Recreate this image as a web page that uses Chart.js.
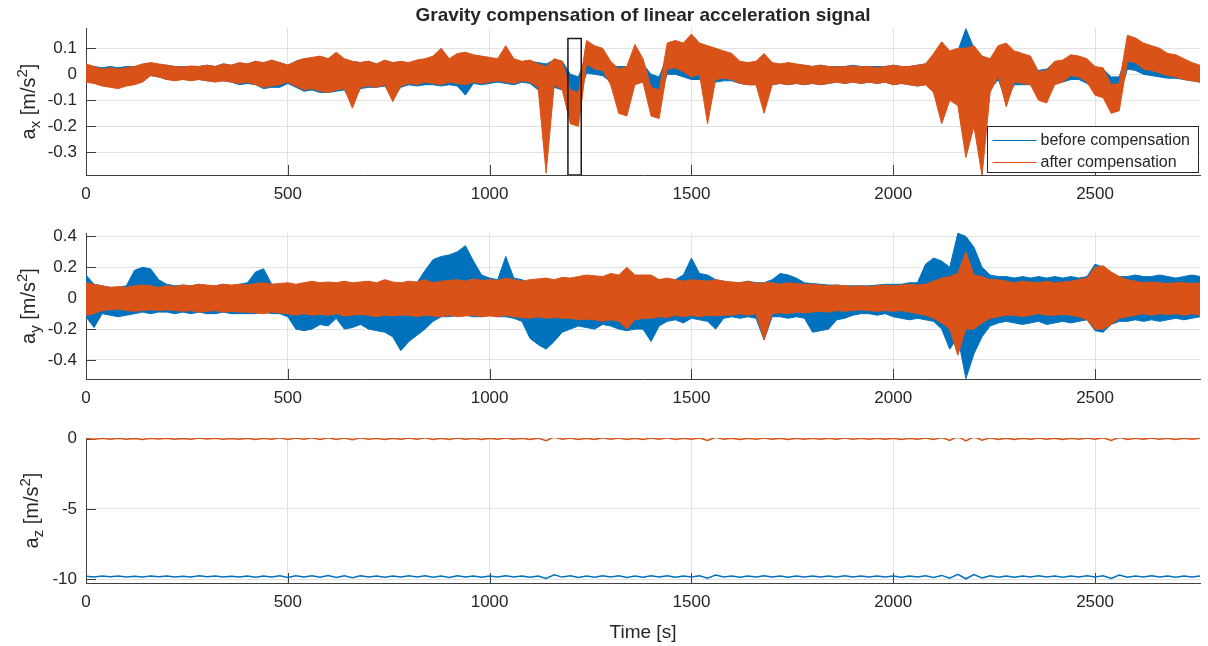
<!DOCTYPE html>
<html>
<head>
<meta charset="utf-8">
<script src="https://cdn.jsdelivr.net/npm/chart.js@4.4.1/dist/chart.umd.min.js"></script>
<style>
  body { margin: 0; background: #fff; }
  #wrap { position: relative; width: 1208px; height: 646px; }
  #wrap canvas { position: absolute; left: 0; top: 0; }
</style>
</head>
<body>
<div id="wrap">
  <canvas id="axChart" width="1208" height="646"></canvas>
  <canvas id="ayChart" width="1208" height="646"></canvas>
  <canvas id="azChart" width="1208" height="646"></canvas>
</div>
<script>
/* sampling grid of the envelopes (s) */
const T_STEP = 20;
const T_END = 2760;

const X_TICKS = [0, 500, 1000, 1500, 2000, 2500];
const AX_TICKS = [-0.3, -0.2, -0.1, 0, 0.1];
const AY_TICKS = [-0.4, -0.2, 0, 0.2, 0.4];
const AZ_TICKS = [-10, -5, 0];

const LEGEND_LABELS = ["before compensation", "after compensation"];

/* a_x : upper / lower envelope every 20 s */
const AX_BEFORE_HI = [
  0.035, 0.03, 0.025, 0.03, 0.025, 0.03, 0.03, 0.035, 0.04, 0.035,
  0.035, 0.03, 0.03, 0.03, 0.03, 0.035, 0.03, 0.04, 0.035, 0.04,
  0.04, 0.05, 0.04, 0.05, 0.045, 0.035, 0.05, 0.06, 0.06, 0.065,
  0.06, 0.08, 0.055, 0.05, 0.045, 0.05, 0.04, 0.05, 0.045, 0.045,
  0.045, 0.05, 0.055, 0.06, 0.09, 0.055, 0.07, 0.075, 0.07, 0.065,
  0.06, 0.055, 0.09, 0.055, 0.045, 0.05, 0.045, 0.04, 0.055, 0.05,
  0.0, -0.01, 0.07, 0.06, 0.05, 0.03, 0.03, 0.03, 0.07, 0.04,
  0.0, -0.01, 0.07, 0.07, 0.065, 0.06, 0.055, 0.05, 0.045, 0.045,
  0.045, 0.04, 0.04, 0.045, 0.06, 0.04, 0.035, 0.04, 0.035, 0.035,
  0.03, 0.035, 0.03, 0.03, 0.03, 0.035, 0.03, 0.03, 0.03, 0.03,
  0.035, 0.03, 0.03, 0.035, 0.04, 0.07, 0.1, 0.08, 0.09, 0.175,
  0.1, 0.07, 0.055, 0.07, 0.07, 0.05, 0.05, 0.045, 0.015, 0.02,
  0.045, 0.045, 0.045, 0.045, 0.045, 0.025, 0.02, -0.01, -0.01, 0.09,
  0.085, 0.07, 0.065, 0.06, 0.05, 0.045, 0.04, 0.035, 0.03
];
const AX_BEFORE_LO = [
  -0.025, -0.03, -0.03, -0.035, -0.035, -0.03, -0.03, -0.025, -0.005, -0.01,
  -0.02, -0.02, -0.02, -0.02, -0.02, -0.025, -0.025, -0.025, -0.03, -0.04,
  -0.035, -0.04, -0.055, -0.05, -0.05, -0.035, -0.05, -0.065, -0.06, -0.07,
  -0.07, -0.065, -0.06, -0.11, -0.055, -0.05, -0.05, -0.045, -0.09, -0.05,
  -0.04, -0.045, -0.04, -0.04, -0.045, -0.04, -0.045, -0.08, -0.035, -0.04,
  -0.035, -0.03, -0.035, -0.04, -0.03, -0.035, -0.06, -0.09, -0.05, -0.06,
  -0.1, -0.095, 0.005, 0.0, -0.005, -0.03, -0.06, -0.055, -0.03, -0.03,
  -0.085, -0.09, 0.0, 0.0, -0.01, -0.02, -0.02, -0.03, -0.03, -0.025,
  -0.025, -0.035, -0.04, -0.04, -0.1, -0.04, -0.035, -0.04, -0.035, -0.04,
  -0.035, -0.04, -0.035, -0.03, -0.035, -0.03, -0.035, -0.03, -0.035, -0.03,
  -0.04, -0.035, -0.04, -0.045, -0.04, -0.07, -0.15, -0.09, -0.1, -0.2,
  -0.15, -0.2, -0.06, -0.02, -0.1, -0.04, -0.04, -0.04, -0.07, -0.075,
  -0.035, -0.03, -0.02, -0.02, -0.035, -0.06, -0.065, -0.09, -0.085, 0.02,
  0.015, 0.0, -0.005, -0.01, -0.015, -0.015, -0.02, -0.025, -0.03
];
const AX_AFTER_HI = [
  0.04, 0.03, 0.02, 0.025, 0.02, 0.025, 0.03, 0.04, 0.045, 0.04,
  0.035, 0.03, 0.028, 0.032, 0.03, 0.035, 0.03, 0.04, 0.035, 0.045,
  0.04, 0.05, 0.045, 0.055, 0.045, 0.035, 0.05, 0.06, 0.065, 0.07,
  0.06, 0.085, 0.06, 0.05, 0.045, 0.05, 0.04, 0.055, 0.045, 0.05,
  0.045, 0.055, 0.06, 0.07, 0.1, 0.06, 0.08, 0.085, 0.075, 0.07,
  0.065, 0.06, 0.11, 0.06, 0.05, 0.055, 0.04, 0.03, 0.06, 0.05,
  -0.06, -0.07, 0.13, 0.11, 0.1, 0.05, 0.02, 0.03, 0.115, 0.06,
  -0.05, -0.06, 0.12, 0.13, 0.12, 0.155, 0.12, 0.11, 0.1, 0.09,
  0.08, 0.05, 0.045, 0.05, 0.08, 0.045, 0.04, 0.045, 0.04, 0.035,
  0.03, 0.035, 0.03, 0.028, 0.03, 0.032, 0.028, 0.03, 0.025, 0.03,
  0.035, 0.03, 0.03, 0.035, 0.04, 0.08, 0.125, 0.09, 0.1, 0.1,
  0.11, 0.07, 0.06, 0.11, 0.12, 0.09, 0.08, 0.07, 0.01, 0.015,
  0.05, 0.055, 0.075, 0.07, 0.06, 0.03, 0.025, -0.04, -0.035, 0.15,
  0.14, 0.12, 0.11, 0.1, 0.08, 0.075, 0.06, 0.045, 0.035
];
const AX_AFTER_LO = [
  -0.03, -0.035, -0.045, -0.05, -0.055, -0.045, -0.04, -0.03, -0.005, -0.01,
  -0.02, -0.025, -0.02, -0.025, -0.02, -0.025, -0.03, -0.025, -0.03, -0.035,
  -0.03, -0.04, -0.05, -0.045, -0.04, -0.03, -0.045, -0.06, -0.055, -0.065,
  -0.07, -0.06, -0.055, -0.13, -0.05, -0.045, -0.05, -0.04, -0.105, -0.045,
  -0.035, -0.04, -0.03, -0.035, -0.04, -0.03, -0.035, -0.04, -0.03, -0.035,
  -0.03, -0.025, -0.03, -0.035, -0.025, -0.03, -0.05, -0.38, -0.04, -0.06,
  -0.19, -0.2, 0.04, 0.02, 0.015, -0.04, -0.15, -0.16, -0.04, -0.03,
  -0.16, -0.17, 0.02, 0.025, 0.01, -0.01, 0.0, -0.19, -0.02, -0.015,
  -0.02, -0.035, -0.04, -0.04, -0.15, -0.04, -0.035, -0.04, -0.035, -0.04,
  -0.035, -0.04, -0.035, -0.03, -0.035, -0.03, -0.035, -0.03, -0.035, -0.03,
  -0.04, -0.035, -0.04, -0.045, -0.04, -0.07, -0.19, -0.1, -0.12, -0.32,
  -0.2, -0.39, -0.07, -0.005, -0.125, -0.03, -0.035, -0.04, -0.1, -0.11,
  -0.04, -0.03, -0.005, -0.01, -0.03, -0.08, -0.09, -0.15, -0.14, 0.05,
  0.045, 0.02, 0.015, 0.005, -0.005, -0.01, -0.02, -0.025, -0.03
];

/* a_y : upper / lower envelope every 20 s */
const AY_BEFORE_HI = [
  0.15, 0.09, 0.08, 0.07, 0.07, 0.08, 0.18, 0.2, 0.19, 0.12,
  0.09, 0.08, 0.085, 0.08, 0.09, 0.08, 0.08, 0.09, 0.08, 0.09,
  0.1, 0.17, 0.19, 0.09, 0.09, 0.08, 0.08, 0.08, 0.085, 0.08,
  0.085, 0.08, 0.09, 0.085, 0.09, 0.08, 0.085, 0.08, 0.08, 0.085,
  0.09, 0.1, 0.18, 0.25, 0.27, 0.28, 0.3, 0.34, 0.24, 0.15,
  0.13, 0.12, 0.27, 0.13, 0.12, 0.1, 0.09, 0.08, 0.085, 0.09,
  0.09, 0.1, 0.11, 0.1, 0.11, 0.12, 0.11, 0.15, 0.12, 0.1,
  0.11, 0.12, 0.11, 0.12, 0.15, 0.26, 0.16, 0.15, 0.12, 0.11,
  0.1, 0.1, 0.11, 0.1, 0.1, 0.12, 0.16, 0.15, 0.13, 0.1,
  0.095, 0.09, 0.085, 0.085, 0.08, 0.08, 0.08, 0.08, 0.085, 0.09,
  0.09, 0.09, 0.1, 0.1, 0.22, 0.26, 0.24, 0.2, 0.42, 0.4,
  0.33, 0.2, 0.15, 0.14, 0.14, 0.13, 0.14, 0.13, 0.14, 0.13,
  0.14, 0.13, 0.14, 0.13, 0.14, 0.22, 0.2, 0.15, 0.14, 0.14,
  0.15, 0.14, 0.14, 0.15, 0.14, 0.13, 0.14, 0.15, 0.14
];
const AY_BEFORE_LO = [
  -0.12, -0.19, -0.1, -0.11, -0.12, -0.11, -0.1, -0.09, -0.1, -0.09,
  -0.09, -0.1, -0.09, -0.1, -0.09, -0.1, -0.1, -0.09, -0.1, -0.1,
  -0.1, -0.1, -0.09, -0.1, -0.1, -0.12, -0.2, -0.21, -0.2, -0.17,
  -0.18, -0.13, -0.2, -0.19, -0.17, -0.2, -0.21, -0.22, -0.25, -0.34,
  -0.28, -0.24, -0.2, -0.15, -0.12, -0.12, -0.11, -0.11, -0.12, -0.12,
  -0.11, -0.12, -0.12, -0.13, -0.15, -0.26, -0.3, -0.33, -0.28, -0.22,
  -0.2, -0.18, -0.19, -0.2, -0.17, -0.18, -0.2, -0.21, -0.2, -0.2,
  -0.28, -0.18, -0.15, -0.14, -0.16, -0.13, -0.14, -0.15, -0.2, -0.13,
  -0.12, -0.13, -0.12, -0.13, -0.27, -0.12, -0.12, -0.13, -0.12, -0.13,
  -0.22, -0.21, -0.2, -0.14, -0.13, -0.11, -0.1, -0.1, -0.11, -0.1,
  -0.12, -0.13, -0.14, -0.13, -0.14, -0.15, -0.2, -0.33, -0.25, -0.52,
  -0.36, -0.25, -0.18, -0.16, -0.15, -0.16, -0.17, -0.16, -0.15, -0.17,
  -0.16, -0.15, -0.16, -0.15, -0.14, -0.21, -0.22, -0.17, -0.15, -0.15,
  -0.14, -0.15, -0.14, -0.15, -0.14, -0.13, -0.14, -0.13, -0.12
];
const AY_AFTER_HI = [
  0.1, 0.09, 0.08, 0.07, 0.075, 0.07, 0.08, 0.085, 0.08, 0.07,
  0.08, 0.075, 0.085, 0.08, 0.09, 0.085, 0.08, 0.09, 0.085, 0.09,
  0.085, 0.095, 0.1, 0.09, 0.095, 0.1, 0.09, 0.1, 0.11, 0.1,
  0.105, 0.1, 0.11, 0.1, 0.105, 0.11, 0.1, 0.12, 0.105, 0.1,
  0.11, 0.105, 0.12, 0.1, 0.11, 0.115, 0.12, 0.11, 0.125, 0.115,
  0.12, 0.115, 0.13, 0.12, 0.11, 0.12, 0.125, 0.13, 0.12, 0.135,
  0.13, 0.14, 0.15, 0.145, 0.14, 0.16, 0.15, 0.2, 0.15, 0.15,
  0.15, 0.12, 0.13, 0.12, 0.11, 0.12, 0.115, 0.11, 0.12, 0.11,
  0.105, 0.1, 0.11, 0.095, 0.1, 0.1, 0.09, 0.1, 0.095, 0.09,
  0.09, 0.085, 0.08, 0.085, 0.08, 0.075, 0.08, 0.075, 0.08, 0.085,
  0.08, 0.085, 0.09, 0.085, 0.09, 0.11, 0.13, 0.14, 0.16, 0.3,
  0.15, 0.14, 0.12, 0.12, 0.11, 0.1, 0.11, 0.105, 0.1, 0.11,
  0.1, 0.105, 0.11, 0.12, 0.13, 0.2, 0.21, 0.17, 0.14, 0.12,
  0.11, 0.1, 0.105, 0.1, 0.095, 0.1, 0.1, 0.095, 0.1
];
const AY_AFTER_LO = [
  -0.11, -0.1, -0.08, -0.075, -0.07, -0.08, -0.085, -0.08, -0.075, -0.08,
  -0.075, -0.08, -0.085, -0.08, -0.09, -0.085, -0.08, -0.09, -0.085, -0.09,
  -0.09, -0.095, -0.1, -0.09, -0.095, -0.1, -0.11, -0.1, -0.11, -0.105,
  -0.11, -0.1, -0.115, -0.11, -0.105, -0.11, -0.12, -0.11, -0.115, -0.11,
  -0.11, -0.12, -0.11, -0.115, -0.12, -0.11, -0.12, -0.115, -0.11, -0.12,
  -0.115, -0.12, -0.11, -0.12, -0.125, -0.13, -0.12, -0.13, -0.125, -0.13,
  -0.13, -0.14, -0.135, -0.14, -0.15, -0.14, -0.15, -0.2, -0.14, -0.13,
  -0.13, -0.12, -0.125, -0.11, -0.12, -0.11, -0.12, -0.11, -0.115, -0.11,
  -0.11, -0.1, -0.11, -0.1, -0.27, -0.1, -0.095, -0.1, -0.09, -0.095,
  -0.09, -0.085, -0.09, -0.08, -0.085, -0.08, -0.075, -0.08, -0.085, -0.08,
  -0.085, -0.08, -0.09, -0.1, -0.11, -0.13, -0.16, -0.2, -0.37, -0.2,
  -0.2, -0.16, -0.13, -0.12, -0.11, -0.11, -0.12, -0.11, -0.1, -0.11,
  -0.11, -0.105, -0.11, -0.12, -0.14, -0.2, -0.2, -0.17, -0.13, -0.12,
  -0.11, -0.1, -0.11, -0.1, -0.105, -0.1, -0.11, -0.1, -0.11
];

/* a_z : one sample every 20 s */
const AZ_BEFORE = [
  -9.79, -9.84, -9.78, -9.83, -9.77, -9.84, -9.79, -9.85, -9.78, -9.82,
  -9.77, -9.84, -9.79, -9.85, -9.76, -9.83, -9.78, -9.85, -9.79, -9.84,
  -9.77, -9.86, -9.78, -9.85, -9.75, -9.87, -9.76, -9.85, -9.75, -9.86,
  -9.74, -9.87, -9.76, -9.89, -9.75, -9.85, -9.78, -9.86, -9.77, -9.84,
  -9.76, -9.85, -9.75, -9.86, -9.77, -9.87, -9.76, -9.85, -9.78, -9.86,
  -9.77, -9.84, -9.76, -9.85, -9.78, -9.86, -9.77, -9.95, -9.69, -9.85,
  -9.76, -9.87, -9.77, -9.86, -9.75, -9.85, -9.76, -9.87, -9.77, -9.86,
  -9.76, -9.85, -9.75, -9.86, -9.77, -9.84, -9.76, -9.93, -9.71, -9.85,
  -9.77, -9.86, -9.78, -9.85, -9.76, -9.84, -9.77, -9.86, -9.78, -9.85,
  -9.78, -9.85, -9.77, -9.84, -9.76, -9.85, -9.78, -9.85, -9.77, -9.84,
  -9.77, -9.86, -9.78, -9.85, -9.76, -9.87, -9.73, -9.93, -9.66, -9.97,
  -9.67, -9.91, -9.75, -9.86, -9.77, -9.86, -9.78, -9.85, -9.76, -9.84,
  -9.77, -9.86, -9.78, -9.85, -9.76, -9.85, -9.75, -9.94, -9.71, -9.86,
  -9.77, -9.84, -9.76, -9.85, -9.78, -9.86, -9.77, -9.84, -9.78
];
const AZ_AFTER = [
  0.02, -0.04, 0.03, -0.03, 0.04, -0.03, 0.02, -0.05, 0.03, -0.02,
  0.04, -0.03, 0.02, -0.04, 0.05, -0.02, 0.03, -0.04, 0.02, -0.03,
  0.04, -0.05, 0.03, -0.04, 0.06, -0.06, 0.05, -0.04, 0.06, -0.05,
  0.07, -0.06, 0.05, -0.08, 0.06, -0.04, 0.03, -0.05, 0.04, -0.03,
  0.05, -0.04, 0.06, -0.05, 0.04, -0.06, 0.05, -0.04, 0.03, -0.05,
  0.04, -0.03, 0.05, -0.04, 0.03, -0.05, 0.04, -0.14, 0.12, -0.04,
  0.05, -0.06, 0.04, -0.05, 0.06, -0.04, 0.05, -0.06, 0.04, -0.05,
  0.05, -0.04, 0.06, -0.05, 0.04, -0.03, 0.05, -0.12, 0.1, -0.04,
  0.04, -0.05, 0.03, -0.04, 0.05, -0.03, 0.04, -0.05, 0.03, -0.04,
  0.03, -0.04, 0.04, -0.03, 0.05, -0.04, 0.03, -0.04, 0.04, -0.03,
  0.04, -0.05, 0.03, -0.04, 0.05, -0.06, 0.08, -0.12, 0.15, -0.16,
  0.14, -0.1, 0.06, -0.05, 0.04, -0.05, 0.03, -0.04, 0.05, -0.03,
  0.04, -0.05, 0.03, -0.04, 0.05, -0.04, 0.06, -0.13, 0.1, -0.05,
  0.04, -0.03, 0.05, -0.04, 0.03, -0.05, 0.04, -0.03, 0.04
];

/* zoom window marked in the a_x panel */
const BOX_T = [1194, 1194, 1227, 1227, 1194];
const BOX_V = [-0.387, 0.138, 0.138, -0.387, -0.387];

const BLUE = "#0072BD";
const ORANGE = "#D95319";
const AXIS = "#404040";
const GRID = "#e2e2e2";
const TEXT = "#262626";
const FONT = '"Liberation Sans", Arial, Helvetica, sans-serif';

const H = 646;
const LEFT = 86;
const RIGHT_PAD = 8;
const X_AXIS_H = 30;

function series(values) {
    return values.map((v, i) => ({ x: i * T_STEP, y: v }));
}

function band(hi, lo, color, order) {
    return [
        { data: series(hi), borderColor: color, backgroundColor: color, borderWidth: 1, pointRadius: 0, fill: "+1", order: order },
        { data: series(lo), borderColor: color, backgroundColor: color, borderWidth: 1, pointRadius: 0, fill: false, order: order }
    ];
}

function drawYLabel(ctx, x, yc, sub) {
    const big = "20px " + FONT;
    const small = "15px " + FONT;
    const parts = [["a", big, 0], [sub, small, 5], [" [m/s", big, 0], ["2", small, -8], ["]", big, 0]];
    ctx.save();
    ctx.translate(x, yc);
    ctx.rotate(-Math.PI / 2);
    ctx.fillStyle = TEXT;
    ctx.textAlign = "left";
    ctx.textBaseline = "alphabetic";
    let w = 0;
    parts.forEach(p => { ctx.font = p[1]; w += ctx.measureText(p[0]).width; });
    let cx = -w / 2;
    parts.forEach(p => {
        ctx.font = p[1];
        ctx.fillText(p[0], cx, p[2]);
        cx += ctx.measureText(p[0]).width;
    });
    ctx.restore();
}

function decor(cfg) {
    return {
        id: "decor",
        beforeDatasetsDraw(chart) {
            const { ctx, chartArea: a, scales: { x, y } } = chart;
            ctx.save();
            ctx.strokeStyle = AXIS;
            ctx.lineWidth = 1;
            ctx.beginPath();
            X_TICKS.forEach(v => {
                const px = Math.round(x.getPixelForValue(v)) + 0.5;
                ctx.moveTo(px, a.bottom);
                ctx.lineTo(px, a.bottom - 10);
            });
            cfg.yTicks.forEach(v => {
                const py = Math.round(y.getPixelForValue(v)) + 0.5;
                ctx.moveTo(a.left, py);
                ctx.lineTo(a.left + 10, py);
            });
            ctx.stroke();
            ctx.restore();
        },
        afterDraw(chart) {
            const { ctx, chartArea: a } = chart;
            drawYLabel(ctx, cfg.labelX, (a.top + a.bottom) / 2, cfg.sub);
            ctx.save();
            ctx.fillStyle = TEXT;
            if (cfg.title) {
                ctx.font = "bold 19px " + FONT;
                ctx.textAlign = "center";
                ctx.textBaseline = "alphabetic";
                ctx.fillText(cfg.title, (a.left + a.right) / 2, 21);
            }
            if (cfg.xTitle) {
                ctx.font = "19px " + FONT;
                ctx.textAlign = "center";
                ctx.textBaseline = "alphabetic";
                ctx.fillText(cfg.xTitle, (a.left + a.right) / 2, 638);
            }
            if (cfg.legend) {
                const bx = 987.5, by = 126.5, bw = 211, bh = 46;
                ctx.fillStyle = "#fff";
                ctx.fillRect(bx, by, bw, bh);
                ctx.strokeStyle = TEXT;
                ctx.lineWidth = 1;
                ctx.strokeRect(bx, by, bw, bh);
                [BLUE, ORANGE].forEach((c, i) => {
                    const ly = by + 14 + i * 22;
                    ctx.strokeStyle = c;
                    ctx.beginPath();
                    ctx.moveTo(bx + 5, ly);
                    ctx.lineTo(bx + 49, ly);
                    ctx.stroke();
                    ctx.fillStyle = TEXT;
                    ctx.font = "16px " + FONT;
                    ctx.textAlign = "left";
                    ctx.textBaseline = "middle";
                    ctx.fillText(LEGEND_LABELS[i], bx + 53, ly);
                });
            }
            ctx.restore();
        }
    };
}

function makePanel(id, cfg) {
    return new Chart(document.getElementById(id), {
        type: "line",
        data: { datasets: cfg.datasets },
        options: {
            responsive: false,
            animation: false,
            events: [],
            layout: { padding: { left: 0, right: RIGHT_PAD, top: cfg.top, bottom: H - cfg.bottom - X_AXIS_H } },
            plugins: { legend: { display: false }, tooltip: { enabled: false } },
            scales: {
                x: {
                    type: "linear",
                    min: 0,
                    max: T_END,
                    afterBuildTicks: s => { s.ticks = X_TICKS.map(v => ({ value: v })); },
                    afterFit: s => { s.height = X_AXIS_H; },
                    grid: { color: GRID, drawTicks: false },
                    border: { color: AXIS },
                    ticks: { padding: 9, color: TEXT, maxRotation: 0, autoSkip: false, font: { family: FONT, size: 17 }, callback: v => String(v) }
                },
                y: {
                    type: "linear",
                    min: cfg.yMin,
                    max: cfg.yMax,
                    afterBuildTicks: s => { s.ticks = cfg.yTicks.map(v => ({ value: v })); },
                    afterFit: s => { s.width = LEFT; },
                    grid: { color: GRID, drawTicks: false },
                    border: { color: AXIS },
                    ticks: { padding: 9, color: TEXT, autoSkip: false, font: { family: FONT, size: 17 }, callback: v => String(v) }
                }
            }
        },
        plugins: [decor(cfg)]
    });
}

/* a_x panel */
makePanel("axChart", {
    top: 28, bottom: 175, yMin: -0.387, yMax: 0.178, yTicks: AX_TICKS,
    sub: "x", labelX: 35,
    title: "Gravity compensation of linear acceleration signal",
    legend: true,
    datasets: [
        { data: BOX_T.map((t, i) => ({ x: t, y: BOX_V[i] })), borderColor: "#1a1a1a", borderWidth: 1.5, pointRadius: 0, fill: false, order: 0 },
        ...band(AX_AFTER_HI, AX_AFTER_LO, ORANGE, 1),
        ...band(AX_BEFORE_HI, AX_BEFORE_LO, BLUE, 2)
    ]
});

/* a_y panel */
makePanel("ayChart", {
    top: 233, bottom: 379, yMin: -0.523, yMax: 0.422, yTicks: AY_TICKS,
    sub: "y", labelX: 35,
    datasets: [
        ...band(AY_AFTER_HI, AY_AFTER_LO, ORANGE, 1),
        ...band(AY_BEFORE_HI, AY_BEFORE_LO, BLUE, 2)
    ]
});

/* a_z panel */
makePanel("azChart", {
    top: 438, bottom: 583, yMin: -10.27, yMax: 0.05, yTicks: AZ_TICKS,
    sub: "z", labelX: 38,
    xTitle: "Time [s]",
    datasets: [
        { data: series(AZ_AFTER), borderColor: ORANGE, borderWidth: 1.5, pointRadius: 0, fill: false, order: 1 },
        { data: series(AZ_BEFORE), borderColor: BLUE, borderWidth: 1.5, pointRadius: 0, fill: false, order: 2 }
    ]
});
</script>
</body>
</html>
